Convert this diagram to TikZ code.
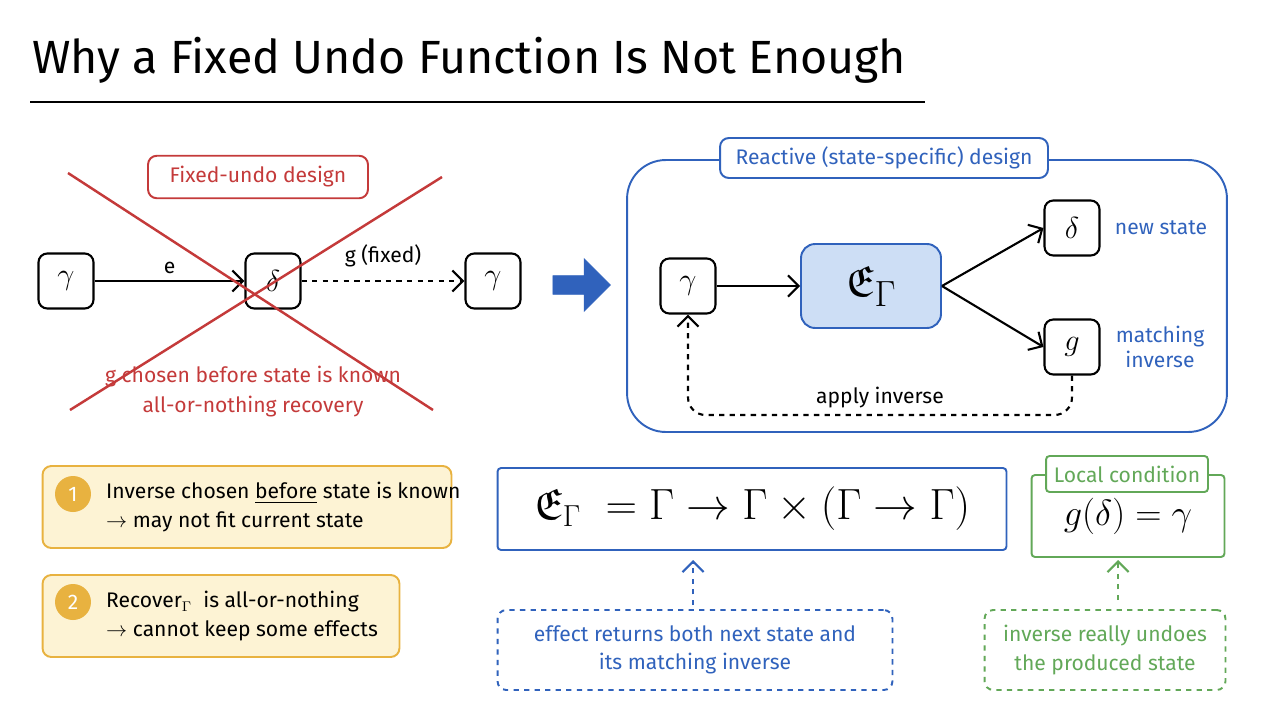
\documentclass[tikz,border=0pt]{standalone}
\usepackage{amsmath,amssymb}
\usepackage{fontspec}
\setmainfont{Fira Sans}
\usetikzlibrary{arrows.meta,shapes.arrows}
\definecolor{cred}{RGB}{196,58,58}
\definecolor{cblue}{RGB}{48,98,188}
\definecolor{lblue}{RGB}{205,222,245}
\definecolor{cyel}{RGB}{232,178,64}
\definecolor{lyel}{RGB}{253,243,212}
\definecolor{cgreen}{RGB}{98,168,88}
\begin{document}
\begin{tikzpicture}[x=0.02cm,y=-0.02cm,
  st/.style={draw=black,line width=1.2pt,rounded corners=5pt,minimum width=1.1cm,minimum height=1.1cm,font=\LARGE},
  ar/.style={-{Straight Barb[length=6pt]},line width=1.2pt},
  lbl/.style={font=\large},
  box/.style={rounded corners=5pt,line width=1.1pt}]
\useasboundingbox (0,0) rectangle (1280,720);
% title
\node[anchor=west,font=\fontsize{26.5}{32}\selectfont] (title) at (26,60) {Why a Fixed Undo Function Is Not Enough};
\draw[line width=1.5pt] (30,102) -- (925,102);
% left part
\node[draw=cred,box,minimum width=4.4cm,minimum height=0.85cm,text=cred,lbl] (fx) at (258,177) {Fixed-undo design};
\node[st] (g1) at (66,281) {$\gamma$};
\node[st] (d1) at (273,281) {$\delta$};
\node[st] (g2) at (493,281) {$\gamma$};
\draw[ar] (g1) -- node[above,lbl] {e} (d1);
\draw[ar,dashed] (d1) -- node[above,lbl,yshift=4pt] {g (fixed)} (g2);
\coordinate (c1) at (68,173); \coordinate (c2) at (433,410);
\coordinate (c3) at (442,177); \coordinate (c4) at (70,410);
\draw[cred,line width=1.4pt] (c1) -- (c2);
\draw[cred,line width=1.4pt] (c3) -- (c4);
\node[text=cred,lbl] (r1) at (253,377) {g chosen before state is known};
\node[text=cred,lbl] (r2) at (253,407) {all-or-nothing recovery};
% big arrow
\node[single arrow,fill=cblue,draw=cblue,minimum height=1.15cm,minimum width=1.05cm,single arrow head extend=4pt,inner sep=2pt] (fat) at (577,285) {};
% right part
\node[draw=cblue,box,rounded corners=22pt,minimum width=12cm,minimum height=5.44cm] (rb) at (927,296) {};
\node[draw=cblue,box,fill=white,text=cblue,minimum width=6.56cm,minimum height=0.8cm,lbl] (rt) at (884,158) {Reactive (state-specific) design};
\node[st] (g3) at (688,286) {$\gamma$};
\node[draw=cblue,fill=lblue,box,rounded corners=8pt,minimum width=2.8cm,minimum height=1.68cm,font=\Huge] (E) at (871,286) {$\mathfrak{E}_\Gamma$};
\node[st] (d3) at (1072,228) {$\delta$};
\node[st] (g4) at (1072,347) {$g$};
\draw[ar] (g3) -- (E);
\draw[ar] (E.east) -- (d3.west);
\draw[ar] (E.east) -- (g4.west);
\node[text=cblue,lbl] (ns) at (1161,228) {new state};
\node[text=cblue,lbl,align=center] (mi) at (1160,347) {matching\\inverse};
\draw[ar,dashed,rounded corners=10pt] (g4.south) -- (1072,415) -- node[above,lbl,pos=0.5] {apply inverse} (688,415) -- (g3.south);
% yellow boxes
\node[draw=cyel,fill=lyel,box,minimum width=8.18cm,minimum height=1.64cm] (y1) at (247,507) {};
\node[circle,fill=cyel,text=white,minimum size=0.72cm,inner sep=0pt,lbl] (n1) at (73,494) {1};
\node[anchor=west,lbl,align=left] (t1) at (100,507) {Inverse chosen \underline{before} state is known\\[2pt]$\to$ may not fit current state};
\node[draw=cyel,fill=lyel,box,minimum width=7.14cm,minimum height=1.64cm] (y2) at (221,616) {};
\node[circle,fill=cyel,text=white,minimum size=0.72cm,inner sep=0pt,lbl] (n2) at (73,602) {2};
\node[anchor=west,lbl,align=left] (t2) at (100,616) {Recover$_\Gamma$\ \ is all-or-nothing\\[2pt]$\to$ cannot keep some effects};
% formula
\node[draw=cblue,box,rounded corners=2pt,minimum width=10.18cm,minimum height=1.64cm,font=\fontsize{25}{29}\selectfont] (fm) at (752,509) {$\mathfrak{E}_\Gamma\;=\Gamma\to\Gamma\times(\Gamma\to\Gamma)$};
\node[draw=cgreen,box,rounded corners=2pt,minimum width=3.86cm,minimum height=1.64cm,font=\fontsize{22}{26}\selectfont] (lc) at (1128,516) {$g(\delta)=\gamma$};
\node[draw=cgreen,fill=white,box,rounded corners=2pt,text=cgreen,minimum width=3.24cm,minimum height=0.72cm,lbl] (lt) at (1127,474) {Local condition};
% notes
\node[draw=cblue,dashed,box,minimum width=7.9cm,minimum height=1.6cm,text=cblue,align=center,lbl] (nb) at (695,650) {effect returns both next state and\\[2pt]its matching inverse};
\node[draw=cgreen,dashed,box,minimum width=4.82cm,minimum height=1.6cm,text=cgreen,align=center,lbl] (ng) at (1105,650) {inverse really undoes\\[2pt]the produced state};
\draw[ar,dashed,cblue] (693,605) -- (693,560);
\draw[ar,dashed,cgreen] (1118,600) -- (1118,560);
\end{tikzpicture}
\end{document}
